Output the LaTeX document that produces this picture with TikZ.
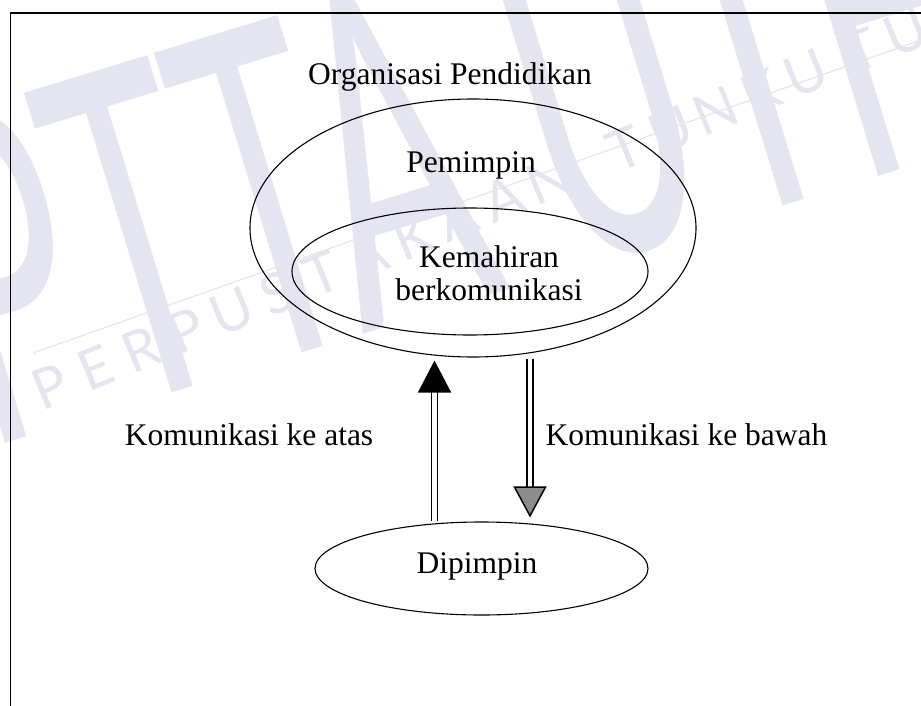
\documentclass[tikz,border=0pt]{standalone}
\usepackage{xcolor}
\usepackage{fontspec}
\setmainfont{Liberation Serif}
\newfontfamily\wmfont{Lato}
\usepackage{tikz}
\usetikzlibrary{shapes, arrows.meta, positioning, calc}

\definecolor{wmark}{RGB}{228,229,240}

\tikzset{
  oval/.style={draw, ellipse, line width=1.1pt, inner sep=0},
  txt/.style={inner sep=0, anchor=base, font=\fontsize{31.5}{33}\selectfont},
  shaft/.style={line width=1.5pt, double, double distance=4.5pt},
  uptip/.style={-{Triangle[length=32pt, width=33pt]}},
  dntip/.style={-{Triangle[length=31pt, width=33pt, fill=black!45]}},
  wmbig/.style={inner sep=0, anchor=base west, text=wmark, rotate=17, xscale=0.5,
    font=\wmfont\fontsize{460}{460}\selectfont},
  wmsmall/.style={inner sep=0, anchor=base, text=wmark,
    font=\wmfont\fontsize{56}{56}\selectfont}
}

\begin{document}
\begin{tikzpicture}[x=1pt, y=-1pt]
  \useasboundingbox (0,0) rectangle (921,706);

  % watermark
  \begin{scope}
    \clip (0,0) rectangle (921,706);
    \node[wmbig] (wmA) at (-15,450) {PTTA UTHM};
    \coordinate (wmS) at (58,405);
    \foreach \c/\p [count=\k] in {P/0,E/1,R/2,P/3,U/4,S/5,T/6,A/7,K/8,A/9,A/10,N/11,
        T/12.7,U/13.7,N/14.7,K/15.7,U/16.7,T/17.9,U/18.9,N/19.9}
      \node[wmsmall, rotate=22.5] (wl\k) at ($(wmS)+(-22.5:\p*49)$) {\c};
    \draw[wmark, line width=1.2pt] (33,353) -- (921,40);
  \end{scope}

  % frame
  \draw[line width=1.4pt] (10.5,706) -- (10.5,13) -- (921,13);

  \node[txt] (org) at (450,85) {Organisasi Pendidikan};

  \node[oval, minimum width=446pt, minimum height=258pt] (pem) at (473,228) {};
  \node[txt] (pemlab) at (471,172) {Pemimpin};

  \node[oval, minimum width=356pt, minimum height=127pt] (kem) at (470,271.5) {};
  \node[txt, align=center, anchor=center] (kemlab) at (489,273) {Kemahiran\\berkomunikasi};

  \node[oval, minimum width=333pt, minimum height=93pt] (dip) at (481.5,568.5) {};
  \node[txt] (diplab) at (477,573) {Dipimpin};

  \coordinate (upx) at (434.5,0);
  \coordinate (dnx) at (530,0);

  \draw[shaft, uptip, shorten >=3pt] (dip.north -| upx) -- (pem.south -| upx);
  \draw[shaft, dntip, shorten <=1pt, shorten >=4pt] (pem.south -| dnx) -- (dip.north -| dnx);

  \node[txt] (atas) at (249,445) {Komunikasi ke atas};
  \node[txt] (bawah) at (686.5,445) {Komunikasi ke bawah};
\end{tikzpicture}
\end{document}
